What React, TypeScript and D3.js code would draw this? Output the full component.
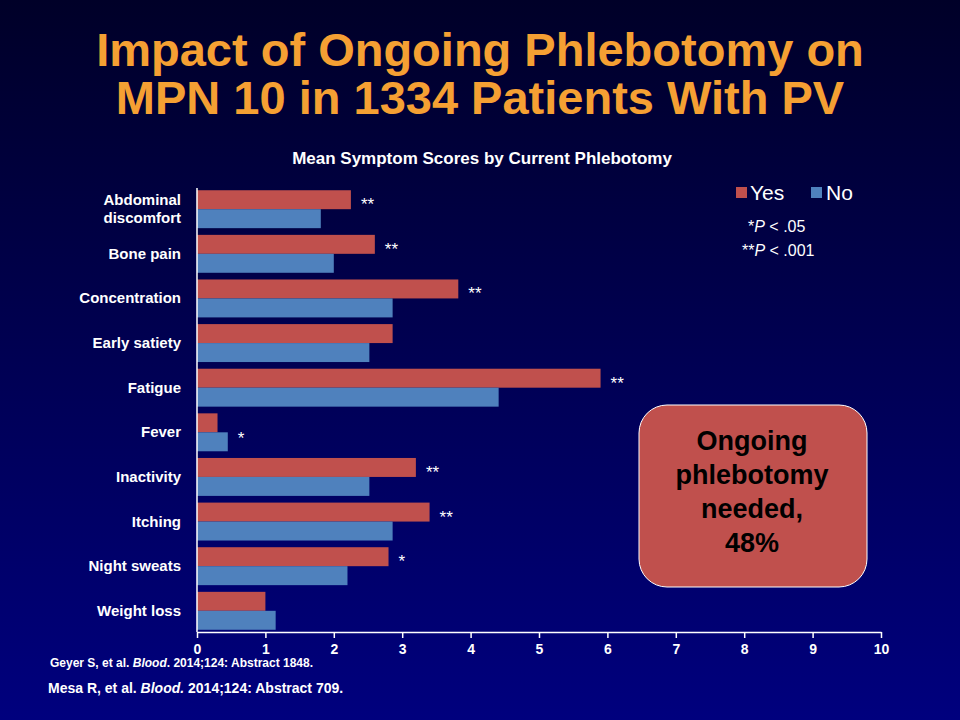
import { useEffect, useRef } from 'react';
import * as d3 from 'd3';

const categories = ['Abdominal\ndiscomfort', 'Bone pain', 'Concentration', 'Early satiety', 'Fatigue', 'Fever', 'Inactivity', 'Itching', 'Night sweats', 'Weight loss'];
const yesValues = [2.25, 2.6, 3.82, 2.86, 5.9, 0.3, 3.2, 3.4, 2.8, 1.0];
const noValues = [1.81, 2.0, 2.86, 2.52, 4.41, 0.45, 2.52, 2.86, 2.2, 1.15];
const marks = ['**', '**', '**', '', '**', '*', '**', '**', '*', ''];
const xTicks = [0, 1, 2, 3, 4, 5, 6, 7, 8, 9, 10];

const W = 960;
const H = 720;
const YES = '#C0504D';
const NO = '#4F81BD';
const FONT = 'Arial, "Liberation Sans", sans-serif';

export default function App() {
  const ref = useRef<SVGSVGElement | null>(null);

  useEffect(() => {
    document.body.style.margin = '0';
    const svg = d3.select(ref.current);
    svg.selectAll('*').remove();

    const defs = svg.append('defs');
    defs
      .append('linearGradient')
      .attr('id', 'bg')
      .attr('x1', '0%').attr('x2', '0%').attr('y1', '0%').attr('y2', '100%')
      .call(g => g.append('stop').attr('offset', '0').attr('stop-color', '#000028'))
      .call(g => g.append('stop').attr('offset', '1').attr('stop-color', '#00007e'));
    svg.append('rect').attr('width', W).attr('height', H).attr('fill', 'url(#bg)');

    // title
    const title = svg.append('text').attr('text-anchor', 'middle').attr('font-family', FONT)
      .attr('font-weight', 700).attr('font-size', 47).attr('fill', '#F5A033');
    title.append('tspan').attr('x', 480).attr('y', 66).text('Impact of Ongoing Phlebotomy on');
    title.append('tspan').attr('x', 480).attr('y', 114).text('MPN 10 in 1334 Patients With PV');

    svg.append('text').attr('x', 482).attr('y', 164).attr('text-anchor', 'middle')
      .attr('font-family', FONT).attr('font-weight', 700).attr('font-size', 17).attr('fill', '#fff')
      .text('Mean Symptom Scores by Current Phlebotomy');

    const left = 197, right = 881, top = 188, bottom = 632;
    const x = d3.scaleLinear().domain([0, 10]).range([left, right]);
    const y = d3.scaleBand<string>().domain(categories).range([top, bottom]).paddingInner(0.15).paddingOuter(0.05);
    const bh = y.bandwidth() / 2;

    const g = svg.append('g');
    categories.forEach((c, i) => {
      const y0 = y(c) as number;
      g.append('rect').attr('x', x(0)).attr('y', y0).attr('width', x(yesValues[i]) - x(0)).attr('height', bh).attr('fill', YES);
      g.append('rect').attr('x', x(0)).attr('y', y0 + bh).attr('width', x(noValues[i]) - x(0)).attr('height', bh).attr('fill', NO);
      if (marks[i]) {
        const yy = i === 5 ? y0 + bh + 12 : y0 + bh + 1;
        g.append('text').attr('x', x(Math.max(yesValues[i], noValues[i])) + 10).attr('y', yy)
          .attr('font-family', FONT).attr('font-size', 17).attr('fill', '#fff').text(marks[i]);
      }
      const lines = c.split('\n');
      const lt = g.append('text').attr('text-anchor', 'end').attr('font-family', FONT).attr('font-weight', 700)
        .attr('font-size', 15).attr('fill', '#fff');
      const cy = y0 + y.bandwidth() / 2;
      lines.forEach((l, k) => {
        lt.append('tspan').attr('x', 181).attr('y', cy + 5 + (k - (lines.length - 1) / 2) * 18).text(l);
      });
    });

    const axis = svg.append('g').attr('transform', `translate(0,${bottom})`)
      .call(d3.axisBottom(x).tickValues(xTicks).tickSize(6).tickSizeOuter(0));
    axis.selectAll('path,line').attr('stroke', '#fff').attr('stroke-width', 1.5);
    axis.selectAll('text').attr('fill', '#fff').attr('font-family', FONT).attr('font-weight', 700).attr('font-size', 14).attr('dy', '0.9em');
    svg.append('line').attr('x1', left).attr('x2', left).attr('y1', top).attr('y2', bottom).attr('stroke', '#fff').attr('stroke-width', 1.5);

    // legend
    const lg = svg.append('g').attr('font-family', FONT).attr('font-size', 21).attr('fill', '#fff');
    lg.append('rect').attr('x', 736).attr('y', 187).attr('width', 11).attr('height', 11).attr('fill', YES);
    lg.append('text').attr('x', 750).attr('y', 200).text('Yes');
    lg.append('rect').attr('x', 811).attr('y', 187).attr('width', 11).attr('height', 11).attr('fill', NO);
    lg.append('text').attr('x', 826).attr('y', 200).text('No');

    const p1 = svg.append('text').attr('x', 748).attr('y', 232).attr('font-family', FONT).attr('font-size', 16).attr('fill', '#fff');
    p1.append('tspan').text('*');
    p1.append('tspan').attr('font-style', 'italic').text('P');
    p1.append('tspan').text(' < .05');
    const p2 = svg.append('text').attr('x', 742).attr('y', 256).attr('font-family', FONT).attr('font-size', 16).attr('fill', '#fff');
    p2.append('tspan').text('**');
    p2.append('tspan').attr('font-style', 'italic').text('P');
    p2.append('tspan').text(' < .001');

    // callout box
    svg.append('rect').attr('x', 639).attr('y', 405).attr('width', 228).attr('height', 182).attr('rx', 28)
      .attr('fill', YES).attr('stroke', '#fff').attr('stroke-width', 1);
    const bt = svg.append('text').attr('text-anchor', 'middle').attr('font-family', FONT).attr('font-weight', 700)
      .attr('font-size', 27).attr('fill', '#000');
    ['Ongoing', 'phlebotomy', 'needed,', '48%'].forEach((t, k) => {
      bt.append('tspan').attr('x', 752).attr('y', 450 + k * 34).text(t);
    });

    const r1 = svg.append('text').attr('x', 50).attr('y', 667).attr('font-family', FONT).attr('font-weight', 700).attr('font-size', 12).attr('fill', '#fff');
    r1.append('tspan').text('Geyer S, et al. ');
    r1.append('tspan').attr('font-style', 'italic').text('Blood');
    r1.append('tspan').text('. 2014;124:  Abstract  1848.');
    const r2 = svg.append('text').attr('x', 48).attr('y', 693).attr('font-family', FONT).attr('font-weight', 700).attr('font-size', 14).attr('fill', '#fff');
    r2.append('tspan').text('Mesa R, et al. ');
    r2.append('tspan').attr('font-style', 'italic').text('Blood.');
    r2.append('tspan').text(' 2014;124: Abstract 709.');
  }, []);

  return <svg ref={ref} width={W} height={H} style={{ display: 'block' }} />;
}
